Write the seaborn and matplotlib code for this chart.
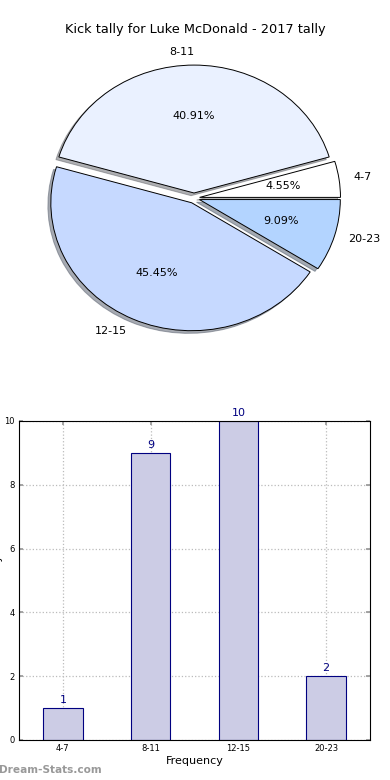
import matplotlib
matplotlib.use("Agg")
import matplotlib.pyplot as plt
import seaborn as sns
import pandas as pd

# Data
pie_labels = ["4-7", "8-11", "12-15", "20-23"]
pie_values = [1, 9, 10, 2]
pie_colors = ["#ffffff", "#eaf1ff", "#c6d9ff", "#b3d4ff"]

bar_categories = ["4-7", "8-11", "12-15", "20-23"]
bar_values = [1, 9, 10, 2]
y_ticks = [0, 2, 4, 6, 8, 10]

title = "Kick tally for Luke McDonald - 2017 tally"

sns.set_theme(style="white")
plt.rcParams["font.family"] = ["DejaVu Sans"]
plt.rcParams["text.color"] = "black"
plt.rcParams["axes.labelcolor"] = "black"
plt.rcParams["xtick.labelcolor"] = "black"
plt.rcParams["ytick.labelcolor"] = "black"

fig = plt.figure(figsize=(3.9, 7.8), dpi=100)

# ---- Pie ----
ax1 = fig.add_axes([0.046, 0.541, 0.903, 0.410])
wedges, texts, autotexts = ax1.pie(
    pie_values, labels=pie_labels, colors=pie_colors,
    explode=[0.04] * 4, shadow={"ox": -0.015, "oy": -0.015, "shade": 0.6},
    startangle=0,
    autopct="%1.2f%%", wedgeprops=dict(edgecolor="black", linewidth=0.7),
    textprops=dict(fontsize=8, color="black"),
)
ax1.set_aspect("auto")
ax1.set_xlim(-1.25, 1.25)
ax1.set_ylim(-1.25, 1.25)
fig.text(0.5, 1 - 30 / 780, title, ha="center", va="center", fontsize=9.3, color="black")

# ---- Bar ----
ax2 = fig.add_axes([0.0487, 0.0513, 0.9, 0.409])
df = pd.DataFrame({"cat": bar_categories, "val": bar_values})
sns.barplot(data=df, x="cat", y="val", color="#ccccE5", saturation=1,
            edgecolor="navy", linewidth=0.8, width=0.45, ax=ax2, zorder=2)
ax2.set_xlim(-0.5, 3.5)
ax2.set_ylim(0, 10)
ax2.set_yticks(y_ticks)
ax2.grid(True, linestyle=":", color="#bbbbbb", linewidth=0.9, zorder=0)
ax2.set_axisbelow(True)
for sp in ax2.spines.values():
    sp.set_color("black")
    sp.set_linewidth(0.8)
ax2.tick_params(axis="both", labelsize=6, direction="in", length=3,
                color="#999999", top=True, right=True, bottom=True, left=True, pad=3)
for i, v in enumerate(bar_values):
    ax2.text(i, v + 0.1, str(v), ha="center", va="bottom", fontsize=8, color="navy")
ax2.set_xlabel("Frequency", fontsize=8, labelpad=2)
ax2.set_ylabel("Kick Tally", fontsize=8)
ax2.yaxis.set_label_coords(-0.046, 0.5)

fig.text(-0.003, 10 / 780, "Dream-Stats.com", ha="left", va="center",
         fontsize=7.6, color="#999999", fontweight="bold")

fig.savefig("out.png", dpi=100)
